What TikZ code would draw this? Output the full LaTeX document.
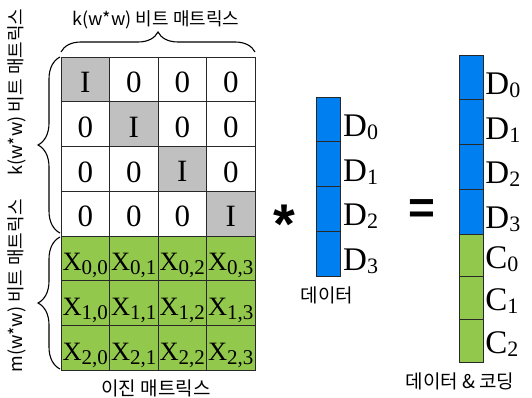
\documentclass[tikz,border=0pt]{standalone}
\usepackage{fontspec}
\setmainfont{Liberation Serif}
\newfontfamily\kr{Noto Sans CJK KR}
\newfontfamily\sansf{Liberation Sans}
\usetikzlibrary{decorations.pathreplacing}
\definecolor{cellgray}{RGB}{192,192,192}
\definecolor{cellgreen}{RGB}{146,200,76}
\definecolor{cellblue}{RGB}{0,128,240}
\definecolor{edge}{RGB}{40,40,40}
\newcommand\low[2]{\raisebox{-#1}[\height][0pt]{#2}}
\newcommand\subx[4]{#1\raisebox{-#3}{\fontsize{#4}{#4}\selectfont #2}}
\begin{document}
\begin{tikzpicture}[x=1pt,y=-1pt,
  cellbox/.style={draw=edge, line width=0.6pt, minimum width=48.5pt, minimum height=44.7pt, inner sep=0pt, outer sep=0pt},
  mtext/.style={font=\fontsize{31}{31}\selectfont},
  xtext/.style={font=\fontsize{26.5}{26.5}\selectfont},
  vcell/.style={draw=edge, line width=0.6pt, minimum width=24pt, inner sep=0pt, outer sep=0pt},
  vlabel/.style={anchor=base west, inner sep=0pt, font=\fontsize{33}{33}\selectfont},
  krlabel/.style={font=\kr\fontsize{18}{18}\selectfont, inner sep=0pt},
  bracestyle/.style={draw=black, line width=1.1pt, decorate, decoration={brace, amplitude=#1}}
]
\useasboundingbox (0,0) rectangle (532,398);
% identity part
\foreach \r in {0,...,3}{
  \foreach \c in {0,...,3}{
    \pgfmathsetmacro\cx{85.25+48.5*\c}
    \pgfmathsetmacro\cy{79.35+44.7*\r}
    \ifnum\r=\c
      \node[cellbox, fill=cellgray, mtext] (m\r\c) at (\cx,\cy) {\low{3pt}{I}};
    \else
      \node[cellbox, fill=white, mtext] (m\r\c) at (\cx,\cy) {\low{3pt}{0}};
    \fi
  }
}
% coding part
\foreach \r in {0,1,2}{
  \foreach \c in {0,...,3}{
    \pgfmathsetmacro\cx{85.25+48.5*\c}
    \pgfmathsetmacro\cy{258.15+44.7*\r}
    \node[cellbox, fill=cellgreen, xtext] (x\r\c) at (\cx,\cy) {\low{4pt}{\subx{X}{\r,\c}{4pt}{21}}};
  }
}
% braces
\coordinate (tbA) at (61,52);
\coordinate (tbB) at (255,52);
\draw[bracestyle=20pt] (tbA) -- (tbB);
\coordinate (lbA) at (60,233);
\coordinate (lbB) at (60,57);
\draw[bracestyle=22pt] (lbA) -- (lbB);
\coordinate (lcA) at (60,369);
\coordinate (lcB) at (60,237);
\draw[bracestyle=22pt] (lcA) -- (lcB);
% labels
\node[krlabel] (toplabel) at (156,20) {k(w*w) 비트 매트릭스};
\node[krlabel, rotate=90] (leftk) at (17,92) {k(w*w) 비트 매트릭스};
\node[krlabel, rotate=90] (leftm) at (17,286) {m(w*w) 비트 매트릭스};
\node[krlabel, font=\kr\fontsize{19}{19}\selectfont] (binlabel) at (156,388) {이진 매트릭스};
% data vector
\foreach \i in {0,...,3}{
  \pgfmathsetmacro\cy{119.4+44.75*\i}
  \node[vcell, fill=cellblue, minimum height=44.75pt] (d\i) at (328,\cy) {};
  \node[vlabel] (dl\i) at ([xshift=3pt, yshift=-17pt]d\i.east) {\subx{D}{\i}{3pt}{22}};
}
\node[krlabel, font=\kr\fontsize{19}{19}\selectfont] (datalabel) at (327,295) {데이터};
% operators
\node[inner sep=0pt, font=\sansf\bfseries\fontsize{56}{56}\selectfont] (star) at (284,224) {*};
\node[inner sep=0pt, font=\sansf\bfseries\fontsize{46}{46}\selectfont] (eq) at (422,212) {=};
% result vector
\foreach \i in {0,...,3}{
  \pgfmathsetmacro\cy{77.4+44.75*\i}
  \node[vcell, fill=cellblue, minimum width=23.5pt, minimum height=44.75pt] (r\i) at (471.5,\cy) {};
  \node[vlabel] (rl\i) at ([xshift=2pt, yshift=-17pt]r\i.east) {\subx{D}{\i}{3pt}{22}};
}
\foreach \i in {0,1,2}{
  \pgfmathsetmacro\cy{255.3+42.67*\i}
  \node[vcell, fill=cellgreen, minimum width=23.5pt, minimum height=42.67pt] (c\i) at (471.5,\cy) {};
  \node[vlabel] (cl\i) at ([xshift=2pt, yshift=-13pt]c\i.east) {\subx{C}{\i}{3pt}{22}};
}
\node[krlabel, font=\kr\fontsize{19}{19}\selectfont] (reslabel) at (460,381) {데이터 \& 코딩};
\end{tikzpicture}
\end{document}
